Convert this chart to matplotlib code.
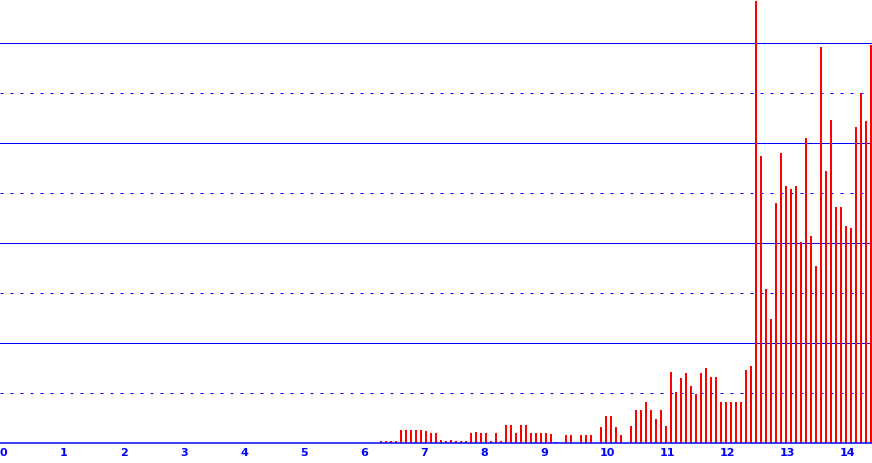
import matplotlib
matplotlib.use("Agg")
import matplotlib.pyplot as plt
import numpy as np

# monthly values, first bar is month 76 (x = 76/12)
first_month = 76
values = [0.04, 0.04, 0.04, 0.04, 0.26, 0.26, 0.26, 0.26, 0.26, 0.24,
          0.20, 0.20, 0.06, 0.04, 0.06, 0.04, 0.04, 0.04, 0.20, 0.22,
          0.20, 0.20, 0.04, 0.20, 0.04, 0.36, 0.36, 0.20, 0.36, 0.36,
          0.20, 0.20, 0.20, 0.20, 0.18, 0.02, 0.00, 0.16, 0.16, 0.00,
          0.16, 0.16, 0.16, 0.00, 0.32, 0.54, 0.54, 0.32, 0.16, 0.00,
          0.34, 0.66, 0.66, 0.82, 0.66, 0.48, 0.66, 0.34, 1.42, 1.02,
          1.30, 1.40, 1.14, 0.98, 1.40, 1.50, 1.32, 1.32, 0.82, 0.82,
          0.82, 0.82, 0.82, 1.46, 1.54, 8.84, 5.74, 3.08, 2.48, 4.80,
          5.80, 5.14, 5.08, 5.14, 4.02, 6.10, 4.14, 3.54, 7.92, 5.44,
          6.46, 4.72, 4.72, 4.34, 4.30, 6.32, 7.00, 6.44, 7.96]
tick_labels = [str(i) for i in range(15)]
solid_levels = [2, 4, 6, 8]
dashed_levels = [1, 3, 5, 7]

x = (first_month + np.arange(len(values))) / 12.0

fig = plt.figure(figsize=(8.72, 4.64), dpi=100)
ax = fig.add_axes([0, 20 / 464, 1, 444 / 464])

px = 0.72  # one pixel in points
for lv in solid_levels:
    ax.axhline(lv, color="#0000ff", lw=px, zorder=1, snap=True)
for lv in dashed_levels:
    ax.axhline(lv, color="#0000ff", lw=px, linestyle=(0, (3, 7)), zorder=1,
               snap=True)

ax.bar(x, values, width=2 / 60, align="edge", color="#ff0000", linewidth=0,
       zorder=2, antialiased=False)
ax.axhline(0, color="#0000ff", lw=px * 1.5, zorder=3, clip_on=False, snap=True)

ax.set_xlim(0, 872 / 60)
ax.set_ylim(0, 444 / 50)
ax.set_xticks(range(len(tick_labels)))
ax.set_xticklabels(tick_labels, ha="left", color="#0000ff", fontsize=8,
                   fontweight="bold")
ax.tick_params(axis="x", length=0, pad=3)
ax.set_yticks([])
for s in ax.spines.values():
    s.set_visible(False)

fig.savefig("out.png", dpi=100)
